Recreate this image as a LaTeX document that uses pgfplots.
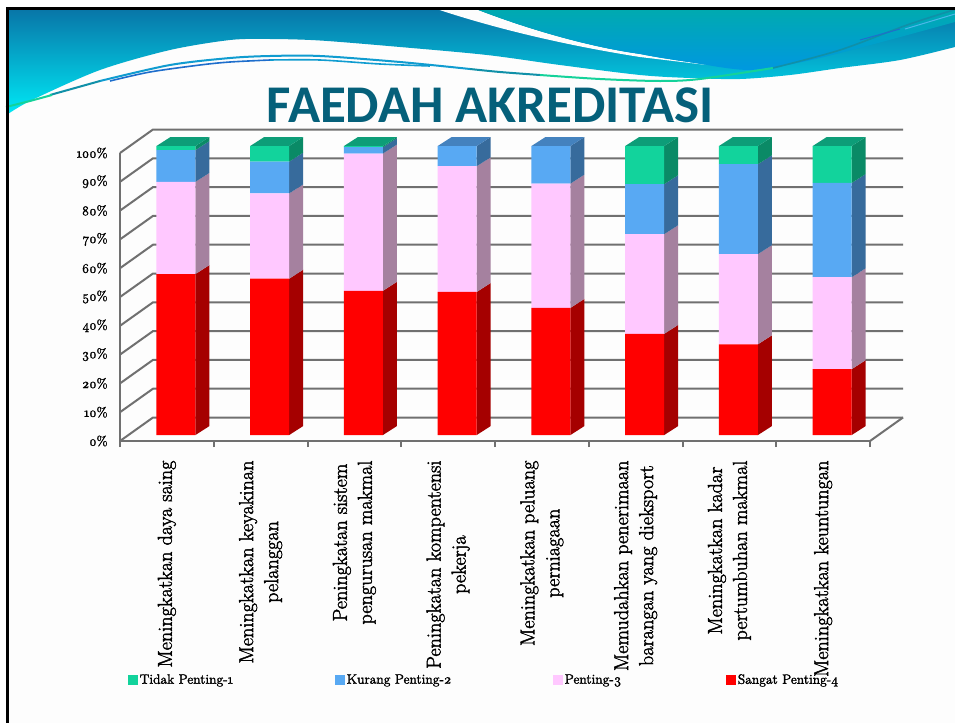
\documentclass[border=0pt]{standalone}
\usepackage{fontspec}
\setmainfont{Latin Modern Roman}[Numbers=OldStyle]
\newfontfamily\labelfont{Latin Modern Roman}[Numbers=OldStyle,RawFeature={embolden=2}]
\newfontfamily\titlefont{Carlito}
\usepackage{pgfplots}
\usepackage{pgfplotstable}
\pgfplotsset{compat=1.18}

\definecolor{cGreen}{HTML}{12D39C}
\definecolor{cBlue}{HTML}{58A9F3}
\definecolor{cPink}{HTML}{FFC8FF}
\definecolor{cRed}{HTML}{FF0000}
\definecolor{dGreen}{HTML}{0A8A66}
\definecolor{dBlue}{HTML}{376B9C}
\definecolor{dPink}{HTML}{A5819F}
\definecolor{dRed}{HTML}{A50000}
\definecolor{tGreen}{HTML}{0D9D78}
\definecolor{tBlue}{HTML}{4482BE}
\definecolor{wallgray}{HTML}{707070}
\definecolor{titleblue}{HTML}{05607A}
\definecolor{paper}{HTML}{FDFDFD}
\definecolor{headTop}{HTML}{0876A8}
\definecolor{headLow}{HTML}{00E8F5}
\definecolor{rightTop}{HTML}{00AAB0}
\definecolor{rightLow}{HTML}{0098E0}
\definecolor{waveGreen}{HTML}{14D29A}
\definecolor{waveTeal}{HTML}{1090A8}
\definecolor{waveBlue}{HTML}{109CD0}
\definecolor{waveDeep}{HTML}{1E6ECC}

% share of each answer, bars left to right
\pgfplotstableread{
x red pink blue green
0 55.7 31.9 11.0 1.4
1 54.1 29.5 11.0 5.4
2 49.9 47.5 2.2 0.4
3 49.5 43.5 7.0 0
4 44.0 43.0 13.0 0
5 35.0 34.5 17.3 13.2
6 31.4 31.2 31.1 6.3
7 22.8 31.8 32.6 12.8
}\tbl

% side face of one stacked segment
\newcommand\sideface[4]{%
  \pgfmathsetmacro\xa{#1+0.208}\pgfmathsetmacro\xb{\xa+0.1493}%
  \pgfmathsetmacro\ylo{#2+3.11}\pgfmathsetmacro\yhi{#3+3.11}%
  \edef\tmp{\noexpand\addplot[fill=#4,draw=none,forget plot] coordinates
    {(\xa,#2)(\xb,\ylo)(\xb,\yhi)(\xa,#3)} -- cycle;}\tmp}
% top face of one bar
\newcommand\topface[2]{%
  \pgfmathsetmacro\xa{#1-0.208}\pgfmathsetmacro\xb{#1+0.208}%
  \pgfmathsetmacro\xc{\xb+0.1493}\pgfmathsetmacro\xd{\xa+0.1493}%
  \edef\tmp{\noexpand\addplot[fill=#2,draw=none,forget plot] coordinates
    {(\xa,100)(\xb,100)(\xc,103.11)(\xd,103.11)} -- cycle;}\tmp}

\begin{document}
\begin{tikzpicture}
\useasboundingbox (0,0) rectangle (955pt,-723pt);

\begin{scope}[x=1pt,y=-1pt]
  % slide background and header
  \fill[white] (0,0) rectangle (955,723);
  \fill[paper] (7,9) rectangle (955,723);
  \shade[top color=headTop,bottom color=headLow]
    (8,9.5) -- (955,9.5)
    -- plot[smooth] coordinates {(955,47) (900,60) (840,68) (790,75) (740,79) (690,78)
      (640,75) (560,65) (487,55) (400,47) (320,40.5) (270,39) (230,40) (170,50)
      (100,70) (32,100) (8,114)} -- cycle;
  \fill[paper] (438,9.5) -- (477,9.5)
    .. controls (530,30) and (590,47) .. (640,54)
    .. controls (665,59) and (690,62) .. (707,65)
    .. controls (690,63) and (665,60) .. (640,57)
    .. controls (570,46) and (500,30) .. (438,9.5) -- cycle;
  \shade[top color=rightTop,bottom color=rightLow]
    (477,9.5) .. controls (530,30) and (590,47) .. (640,54)
    .. controls (665,59) and (690,62) .. (707,65)
    .. controls (725,68) and (738,70) .. (750,70)
    .. controls (790,68) and (860,48) .. (955,22)
    -- (955,9.5) -- cycle;
  % thin wave lines
  \draw[line width=2pt,waveBlue] plot[smooth] coordinates
    {(100,81) (170,65) (230,58) (270,56) (320,56) (400,62) (470,69)};
  \draw[line width=1.6pt,waveDeep] plot[smooth] coordinates
    {(110,81) (150,72) (200,65) (230,62) (270,60)};
  \draw[line width=1.6pt,waveBlue] plot[smooth] coordinates
    {(270,60) (320,60) (380,64) (430,66)};
  \draw[line width=2pt,waveTeal] (50,95) -- (100,81);
  \draw[line width=2pt,waveTeal] plot[smooth] coordinates {(470,69) (500,72) (540,75)};
  \draw[line width=2pt,waveGreen] (6,107) -- (30,101) -- (52,95);
  \draw[line width=2pt,waveGreen] plot[smooth] coordinates
    {(540,75) (600,79) (660,81) (700,79) (773,68)};
  \draw[line width=1.6pt,waveTeal] plot[smooth] coordinates
    {(773,68) (840,50) (907,25) (955,9.5)};
  \draw[line width=1pt,waveDeep] (860,40) -- (900,29);
  \draw[line width=1pt,rightLow!70!white] (905,29) -- (955,14);
  % frame
  \fill[black] (6,7) rectangle (955,9.5);
  \fill[black] (6,7) rectangle (8.5,723);
  % title
  \node[font=\titlefont\bfseries\fontsize{53}{53}\selectfont,text=titleblue,
        yscale=1.0,transform shape,inner sep=0pt] at (490,105) {FAEDAH AKREDITASI};
\end{scope}

% floor, side wall and back wall
\begin{axis}[
    at={(120pt,-441pt)}, anchor=south west,
    scale only axis, width=750pt, height=288pt,
    xmin=0, xmax=8, ymin=0, ymax=100,
    clip=false,
    axis x line=bottom, axis y line=left,
    axis line style={-, wallgray, line width=2pt},
    xtick={0.5,1.5,2.5,3.5,4.5,5.5,6.5,7.5},
    xticklabels={
      Meningkatkan daya saing,
      {Meningkatkan keyakinan\\pelanggan},
      {Peningkatan sistem\\pengurusan makmal},
      {Peningkatan kompentensi\\pekerja},
      {Meningkatkan peluang\\perniagaan},
      {Memudahkan penerimaan\\barangan yang dieksport},
      {Meningkatkan kadar\\pertumbuhan makmal},
      Meningkatkan keuntungan},
    minor xtick={0,1,2,3,4,5,6,7,8},
    minor tick length=6pt,
    major tick length=0pt,
    tick align=outside,
    minor tick style={wallgray, line width=2pt},
    xticklabel shift=16pt,
    x tick label style={rotate=90, anchor=east, align=center,
      font=\labelfont\fontsize{20.2}{25}\selectfont},
    ytick={0,10,...,100},
    yticklabel={\pgfmathprintnumber{\tick}\%},
    yticklabel shift=9pt,
    y tick label style={font=\labelfont\fontsize{13.3}{14}\selectfont},
    /pgf/number format/assume math mode=true,
]
\pgfplotsinvokeforeach{0,10,...,100}{
  \draw[wallgray, line width=2pt]
    (axis cs:0,#1) -- (axis cs:0.352,#1+8.16) -- (axis cs:8.352,#1+8.16);
}
\draw[wallgray, line width=2pt] (axis cs:8,0) -- (axis cs:8.352,8.16);
\end{axis}

% side and top faces of the bars
\begin{axis}[
    at={(129.1pt,-435pt)}, anchor=south west,
    scale only axis, width=750pt, height=289pt,
    xmin=-0.5, xmax=7.5, ymin=0, ymax=100,
    clip=false, hide axis,
]
\pgfplotsforeachungrouped \i in {0,...,7}{
  \pgfplotstablegetelem{\i}{red}\of\tbl \let\vr\pgfplotsretval
  \pgfplotstablegetelem{\i}{pink}\of\tbl \let\vp\pgfplotsretval
  \pgfplotstablegetelem{\i}{blue}\of\tbl \let\vb\pgfplotsretval
  \pgfplotstablegetelem{\i}{green}\of\tbl \let\vg\pgfplotsretval
  \pgfmathsetmacro\sp{\vr+\vp}
  \pgfmathsetmacro\sb{\sp+\vb}
  \sideface{\i}{0}{\vr}{dRed}
  \sideface{\i}{\vr}{\sp}{dPink}
  \sideface{\i}{\sp}{\sb}{dBlue}
  \ifdim\vg pt>0pt
    \sideface{\i}{\sb}{100}{dGreen}
    \topface{\i}{tGreen}
  \else
    \topface{\i}{tBlue}
  \fi
}
\end{axis}

% front faces
\begin{axis}[
    at={(129.1pt,-435pt)}, anchor=south west,
    scale only axis, width=750pt, height=289pt,
    xmin=-0.5, xmax=7.5, ymin=0, ymax=100,
    clip=false, hide axis,
    ybar stacked, bar width=39pt,
    reverse legend,
    legend columns=4,
    legend cell align=left,
    legend style={at={(-0.002,-0.847)}, anchor=west, draw=none, fill=none,
      inner sep=0pt, font=\labelfont\fontsize{13.6}{14}\selectfont},
    legend image code/.code={\fill[#1] (0pt,-5pt) rectangle (10pt,5pt);},
]
\addplot[fill=cRed,draw=none] table[x=x,y=red] {\tbl};
\addplot[fill=cPink,draw=none] table[x=x,y=pink] {\tbl};
\addplot[fill=cBlue,draw=none] table[x=x,y=blue] {\tbl};
\addplot[fill=cGreen,draw=none] table[x=x,y=green] {\tbl};
\legend{\makebox[100pt][l]{Sangat Penting-4},\makebox[159pt][l]{Penting-3},
  \makebox[204pt][l]{Kurang Penting-2},\makebox[193pt][l]{Tidak Penting-1}}
\end{axis}
\end{tikzpicture}
\end{document}
